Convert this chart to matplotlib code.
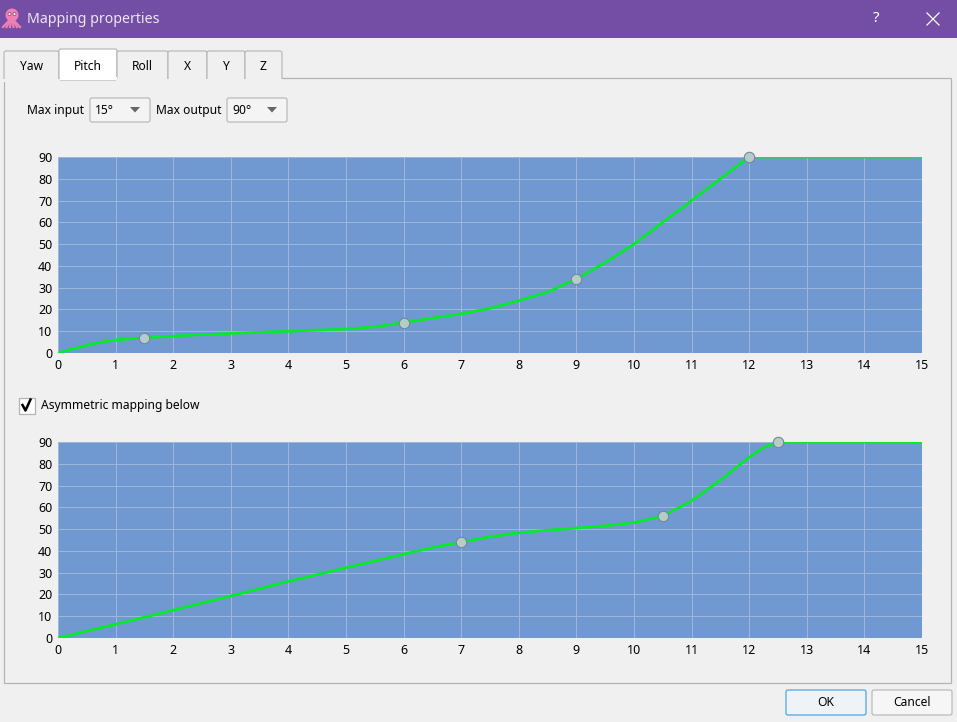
from matplotlib import pyplot as plt
from matplotlib.patches import Circle, FancyBboxPatch, Polygon, Rectangle
import numpy as np

plt.rcParams["font.family"] = ["Noto Sans", "DejaVu Sans"]

W, H = 957, 722

# values
x_upper = [0, 0.25, 0.5, 0.75, 1, 1.5, 2, 3, 4, 5, 5.5, 6, 6.5, 7, 7.5, 8, 8.5, 9, 9.5, 10, 10.5, 11, 11.5, 12, 15]
y_upper = [0, 1.8, 3.5, 5, 6, 7, 7.8, 9, 10, 11, 12, 14, 16, 18, 20.5, 24, 28, 34, 41.5, 50, 60, 70, 80, 90, 90]
handles_x_upper = [1.5, 6, 9, 12]
handles_y_upper = [7, 14, 34, 90]

x_lower = [0, 1, 2, 3, 4, 5, 6, 6.5, 7, 7.5, 8, 8.5, 9, 9.5, 10, 10.5, 11, 11.5, 12, 12.25, 12.5, 15]
y_lower = [0, 6.3, 12.8, 19.3, 26, 32.3, 38.5, 41.5, 44, 46.5, 48.3, 49.5, 50.5, 51.5, 53, 56, 63, 72.5, 83, 87.5, 90, 90]
handles_x_lower = [7, 10.5, 12.5]
handles_y_lower = [44, 56, 90]

tab_names = ["Yaw", "Pitch", "Roll", "X", "Y", "Z"]
tab_edges = [4, 59, 117, 168, 207, 245, 282]
x_ticks = list(range(16))
y_ticks = list(range(0, 100, 10))

PLOT_BLUE = "#7199d1"
GREEN = "#00ee22"
EDGE = "#b4b4b4"
BG = "#f0f0f0"
UI_SIZE = 8.7


def rounded(ax, x, y, w, h, face, edge=EDGE, lw=0.8, r=3):
    ax.add_patch(FancyBboxPatch((x + r, y + r), w - 2 * r, h - 2 * r, boxstyle="round,pad=%d,rounding_size=%d" % (r, r),
                                fc=face, ec=edge, lw=lw))


def draw_map(fig, top, bottom, xs, ys, hx, hy):
    """one mapping plot, top and bottom given in window pixels"""
    ax = fig.add_axes([58 / W, 1 - bottom / H, (922 - 58) / W, (bottom - top) / H])
    ax.set_facecolor(PLOT_BLUE)
    ax.set_xlim(0, 15)
    ax.set_ylim(0, 90)
    ax.set_xticks(x_ticks)
    ax.set_yticks(y_ticks)
    ax.grid(True, color="#9db6da", lw=0.75)
    ax.set_axisbelow(True)
    for s in ax.spines.values():
        s.set_visible(False)
    ax.tick_params(length=0, labelsize=9, pad=4, colors="black")
    ax.tick_params(axis="x", pad=4)
    ax.plot(xs, ys, color=GREEN, lw=1.9, solid_joinstyle="round", zorder=3)
    ax.plot(hx, hy, ls="none", marker="o", ms=7.5, mfc="#b4cdc6", mec="#70889c", mew=0.8, zorder=4, clip_on=False)


fig = plt.figure(figsize=(W / 100, H / 100), dpi=100, facecolor=BG)

# window furniture, drawn in pixel coordinates
ui = fig.add_axes([0, 0, 1, 1])
ui.set_xlim(0, W)
ui.set_ylim(H, 0)
ui.axis("off")

ui.add_patch(Rectangle((0, 0), W, 38, fc="#744ea5", ec="none"))
ui.text(27, 19.5, "Mapping properties", color="#ece6f4", fontsize=10.2, va="center")
ui.text(876, 19, "?", color="white", fontsize=11, va="center", ha="center")
ui.plot([927, 939], [13, 25], color="white", lw=0.9)
ui.plot([927, 939], [25, 13], color="white", lw=0.9)

# small octopus icon
for cx in [3, 6.5, 10, 13.5, 17, 20]:
    ui.plot([11.5, cx], [18, 27], color="#ee7fb4", lw=1.6)
ui.add_patch(Circle((12, 15), 6.5, fc="#f07fb8", ec="none"))
ui.add_patch(Circle((9.5, 14), 1.5, fc="white", ec="#8a3a60", lw=0.5))
ui.add_patch(Circle((14.5, 14), 1.5, fc="white", ec="#8a3a60", lw=0.5))

# tab page and tabs
ui.add_patch(Rectangle((4, 78), 947, 605, fc=BG, ec=EDGE, lw=0.9))
for i, name in enumerate(tab_names):
    x0, x1 = tab_edges[i], tab_edges[i + 1]
    if name == "Pitch":
        rounded(ui, x0, 49, x1 - x0, 31, "white", r=2)
        ui.add_patch(Rectangle((x0 + 0.5, 77), x1 - x0 - 1, 3, fc="white", ec="none", zorder=3))
    else:
        rounded(ui, x0, 51, x1 - x0, 30, BG, r=2)
        ui.add_patch(Rectangle((x0 - 1, 79), x1 - x0 + 2, 3, fc=BG, ec="none", zorder=3))
    ui.text((x0 + x1) / 2, 66, name, fontsize=UI_SIZE, ha="center", va="center", color="black", zorder=4)

# combo boxes
ui.text(27, 110.5, "Max input", fontsize=UI_SIZE, va="center", color="black")
ui.text(156, 110.5, "Max output", fontsize=UI_SIZE, va="center", color="black")
for x0, label in [(90, "15°"), (227, "90°")]:
    rounded(ui, x0, 98, 60, 24, "#f4f4f4", r=2)
    ui.text(x0 + 5, 110.5, label, fontsize=UI_SIZE, va="center", color="black")
    ui.add_patch(Polygon([(x0 + 40, 107), (x0 + 50, 107), (x0 + 45, 112.5)], fc="#666666", ec="none"))

# checkbox
ui.add_patch(Rectangle((18.5, 397.5), 16, 16, fc="white", ec=EDGE, lw=0.9))
ui.plot([22.5, 25.5, 30.5], [405, 410.5, 399.5], color="black", lw=1.8)
ui.text(41, 405.5, "Asymmetric mapping below", fontsize=UI_SIZE, va="center", color="black")

# buttons
rounded(ui, 786, 690, 80, 25, "#eef3f8", edge="#4da6e8", lw=0.9, r=2)
ui.text(826, 703, "OK", fontsize=UI_SIZE, ha="center", va="center", color="black")
rounded(ui, 872, 690, 80, 25, "#f6f6f6", r=2)
ui.text(912, 703, "Cancel", fontsize=UI_SIZE, ha="center", va="center", color="black")

draw_map(fig, 157, 353, x_upper, y_upper, handles_x_upper, handles_y_upper)
draw_map(fig, 442, 638, x_lower, y_lower, handles_x_lower, handles_y_lower)

fig.savefig("out.png", dpi=100, facecolor=BG)
